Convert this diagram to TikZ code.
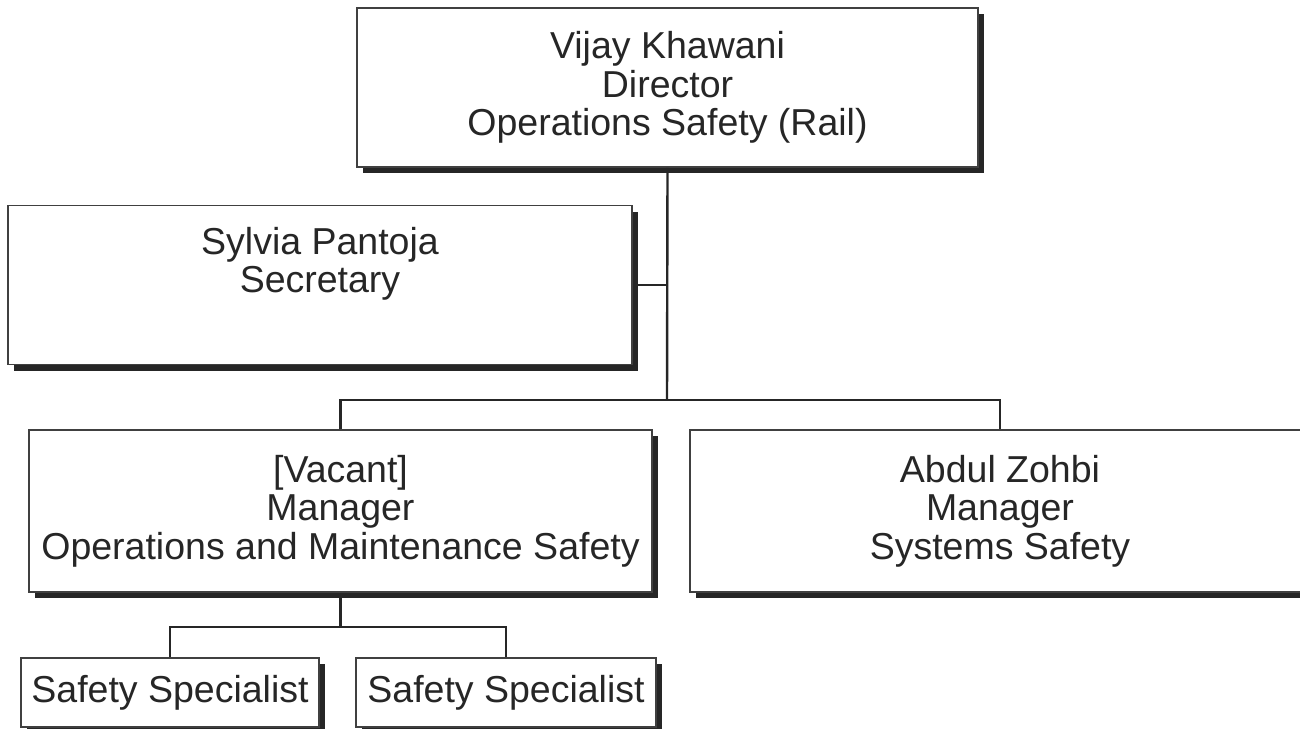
\documentclass[tikz,border=0pt]{standalone}
\usepackage{fontspec}
\setmainfont{Liberation Sans}
\usetikzlibrary{shadows}

\begin{document}
\begin{tikzpicture}[x=1pt, y=-1pt,
        box/.style={rectangle, draw=black!75, line width=1.5pt, fill=white, align=center,
            inner sep=0pt, text=black!85, font=\fontsize{37.5}{38.5}\selectfont,
            drop shadow={shadow xshift=6pt, shadow yshift=-6pt, opacity=1, fill=black!85}},
        link/.style={draw=black!85, line width=2.4pt}]
        \useasboundingbox (0,0) rectangle (1300,728);

        \node[box, minimum width=621pt, minimum height=159pt] (dir) at (667.5,87.5) {Vijay Khawani\\Director\\Operations Safety (Rail)};
        \node[box, minimum width=624pt, minimum height=159pt] (sec) at (320,285) {Sylvia Pantoja\\Secretary\\\strut};
        \node[box, minimum width=623pt, minimum height=162pt] (vac) at (340.5,511) {[Vacant]\\Manager\\Operations and Maintenance Safety};
        \node[box, minimum width=620pt, minimum height=162pt] (abd) at (1000,511) {Abdul Zohbi\\Manager\\Systems Safety};
        \node[box, minimum width=298pt, minimum height=69pt] (spec1) at (170,692.5) {Safety Specialist};
        \node[box, minimum width=300pt, minimum height=69pt] (spec2) at (506,692.5) {Safety Specialist};

        \coordinate (j1) at (667,400);
        \coordinate (j2) at (340.5,627);

        \draw[link] (dir.south) -- (j1);
        \draw[link] (sec.east) -- (sec.east -| j1);
        \draw[link] (vac.north) |- (j1) -| (abd.north);
        \draw[link] (vac.south) -- (j2);
        \draw[link] (spec1.north) |- (j2) -| (spec2.north);
    \end{tikzpicture}
\end{document}
